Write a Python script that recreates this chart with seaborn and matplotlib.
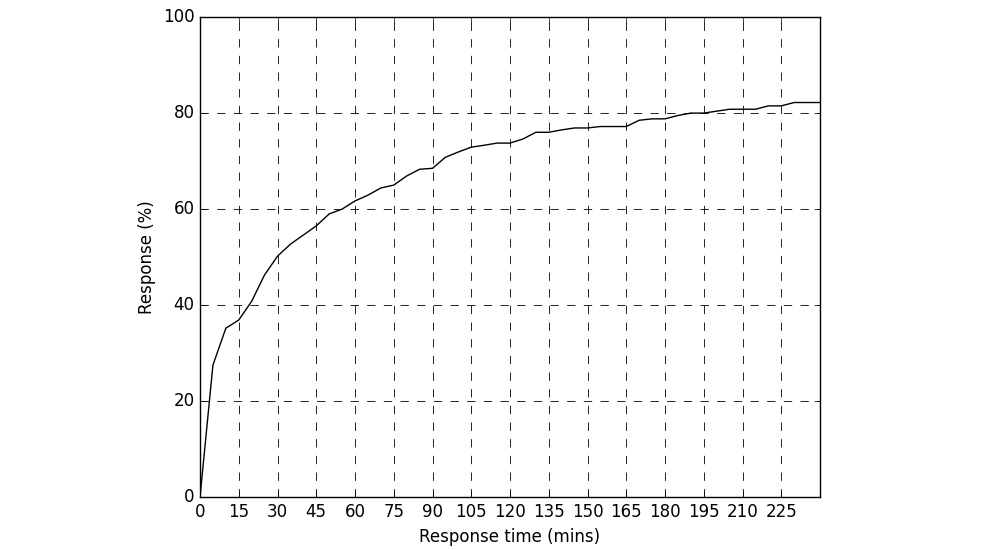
import numpy as np
import pandas as pd
import matplotlib
matplotlib.use("Agg")
import matplotlib.pyplot as plt
import seaborn as sns

# data (every 5 minutes)
minutes = list(range(0, 245, 5))
response = [0.0, 27.5, 35.2, 36.9, 40.8, 46.3, 50.2, 52.7, 54.6, 56.5,
            59.0, 60.0, 61.7, 62.9, 64.4, 65.0, 66.9, 68.3, 68.5, 70.8,
            71.9, 72.9, 73.3, 73.75, 73.75, 74.6, 76.0, 76.0, 76.5, 76.9,
            76.9, 77.2, 77.2, 77.2, 78.5, 78.8, 78.8, 79.5, 80.0, 80.0,
            80.4, 80.8, 80.8, 80.8, 81.5, 81.5, 82.2, 82.2, 82.2]
xticks = list(range(0, 240, 15))
yticks = [0, 20, 40, 60, 80, 100]

df = pd.DataFrame({"minutes": minutes, "response": response})

plt.style.use("classic")
plt.rcParams["font.family"] = ["DejaVu Sans"]

fig = plt.figure(figsize=(10, 5.5), dpi=100, facecolor="white")
ax = fig.add_axes([0.2, 0.096, 0.62, 0.873])
sns.lineplot(data=df, x="minutes", y="response", color="black", linewidth=1, ax=ax)

ax.set_xlim(0, 240)
ax.set_ylim(0, 100)
ax.set_xticks(xticks)
ax.set_yticks(yticks)
ax.grid(True, color="black", linestyle=(0, (6, 6)), linewidth=0.6)
ax.tick_params(labelsize=12, direction="in", length=4)
ax.set_xlabel("Response time (mins)", fontsize=12)
ax.set_ylabel("Response (%)", fontsize=12)

fig.savefig("out.png", dpi=100, facecolor="white")
